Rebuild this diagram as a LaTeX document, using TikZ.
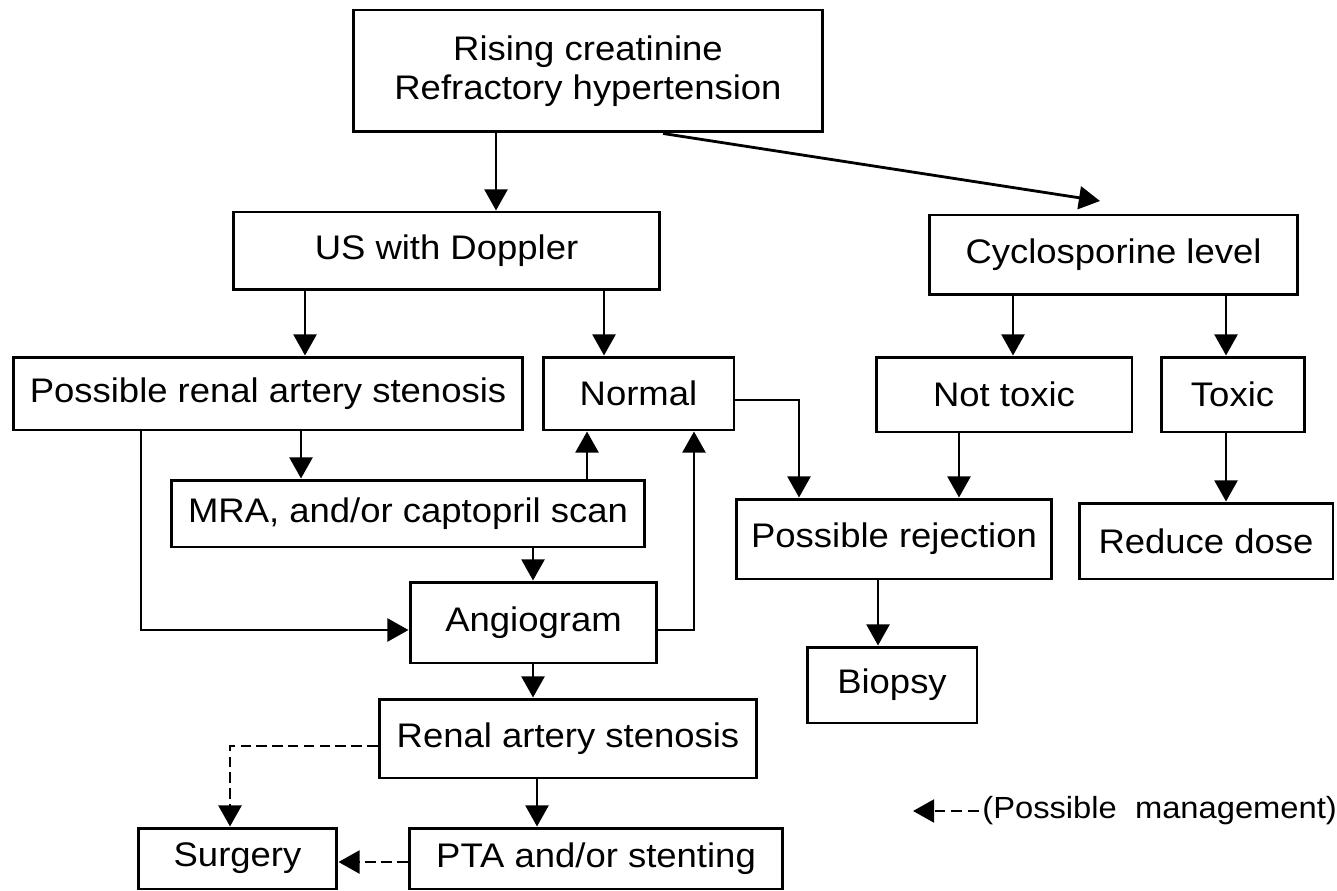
\documentclass[tikz,border=0pt]{standalone}
\usepackage{fontspec}
\setmainfont{Liberation Sans}[FakeStretch=1.07]
\usetikzlibrary{arrows.meta}
\tikzset{
  box/.style={draw, line width=1.7pt, inner sep=0pt, align=center,
    font=\fontsize{19.4pt}{22.5pt}\selectfont},
  arr/.style={line width=1.6pt, -{Triangle[length=12pt,width=13pt]}},
  darr/.style={arr, dash pattern=on 6pt off 3pt},
}
\begin{document}
\begin{tikzpicture}[x=0.02cm, y=-0.02cm]
\useasboundingbox (0,0) rectangle (1337,891);
% nodes
\node[box, minimum width=9.4cm,  minimum height=2.44cm] (top)  at (588,71)    {Rising creatinine\\Refractory hypertension};
\node[box, minimum width=8.54cm, minimum height=1.56cm] (us)   at (446.5,251) {US with Doppler};
\node[box, minimum width=7.38cm, minimum height=1.6cm]  (cyc)  at (1113.5,255){Cyclosporine level};
\node[box, minimum width=10.2cm, minimum height=1.46cm] (prs)  at (268,393.5) {Possible renal artery stenosis};
\node[box, minimum width=3.82cm, minimum height=1.46cm] (norm) at (638.5,393.5){Normal};
\node[box, minimum width=5.12cm, minimum height=1.5cm]  (ntox) at (1004,394.5){Not toxic};
\node[box, minimum width=2.86cm, minimum height=1.5cm]  (tox)  at (1232.5,394.5){Toxic};
\node[box, minimum width=9.48cm, minimum height=1.34cm] (mra)  at (408,513.5) {MRA, and/or captopril scan};
\node[box, minimum width=6.32cm, minimum height=1.6cm]  (rej)  at (894,539)   {Possible rejection};
\node[box, minimum width=5.08cm, minimum height=1.52cm] (red)  at (1206,541)  {Reduce dose};
\node[box, minimum width=4.94cm, minimum height=1.62cm] (ang)  at (533.5,622.5){Angiogram};
\node[box, minimum width=3.4cm,  minimum height=1.52cm] (bio)  at (892,685)   {Biopsy};
\node[box, minimum width=7.56cm, minimum height=1.58cm] (ras)  at (568,738.5) {Renal artery stenosis};
\node[box, minimum width=3.98cm, minimum height=1.22cm] (surg) at (237.5,858.5){Surgery};
\node[box, minimum width=7.48cm, minimum height=1.22cm] (pta)  at (596,858.5) {PTA and/or stenting};
% legend
\node[anchor=west, inner sep=0pt, font=\fontsize{17.4pt}{20pt}\selectfont] (legtext) at (982,811) {(Possible\ \ management)};
\coordinate (leghead) at (913,811);
% helper x positions
\coordinate (x141) at (141,0);
\coordinate (x230) at (230,0);
\coordinate (x301) at (301,0);
\coordinate (x305) at (305,0);
\coordinate (x496) at (496,0);
\coordinate (x533) at (533,0);
\coordinate (x537) at (537,0);
\coordinate (x587) at (587,0);
\coordinate (x604) at (604,0);
\coordinate (x663) at (663,0);
\coordinate (x694) at (694,0);
\coordinate (x799) at (799,0);
\coordinate (x878) at (878,0);
\coordinate (x959) at (959,0);
\coordinate (x1013) at (1013,0);
\coordinate (x1226) at (1226,0);
\coordinate (y630) at (0,630);
\coordinate (y400) at (0,400);
\coordinate (y746) at (0,746);
\coordinate (y862) at (0,862);
\coordinate (cycin) at (1100,201);
% connectors
\draw[arr] (top.south -| x496) -- (us.north -| x496);
\draw[arr] (top.south -| x663) -- (cycin);
\draw[arr] (us.south -| x305) -- (prs.north -| x305);
\draw[arr] (us.south -| x604) -- (norm.north -| x604);
\draw[arr] (cyc.south -| x1013) -- (ntox.north -| x1013);
\draw[arr] (cyc.south -| x1226) -- (tox.north -| x1226);
\draw[arr] (prs.south -| x301) -- (mra.north -| x301);
\draw[arr] (mra.north -| x587) -- (norm.south -| x587);
\draw[arr] (mra.south -| x533) -- (ang.north -| x533);
\draw[arr] (prs.south -| x141) |- (ang.west |- y630);
\draw[arr] (ang.east |- y630) -| (norm.south -| x694);
\draw[arr] (norm.east |- y400) -| (rej.north -| x799);
\draw[arr] (ntox.south -| x959) -- (rej.north -| x959);
\draw[arr] (tox.south -| x1226) -- (red.north -| x1226);
\draw[arr] (rej.south -| x878) -- (bio.north -| x878);
\draw[arr] (ang.south -| x533) -- (ras.north -| x533);
\draw[arr] (ras.south -| x537) -- (pta.north -| x537);
\draw[darr] (ras.west |- y746) -| (surg.north -| x230);
\draw[darr] (pta.west |- y862) -- (surg.east |- y862);
\draw[arr, dash pattern=on 6pt off 3.5pt] ([xshift=-2pt]legtext.west) -- (leghead);
\end{tikzpicture}
\end{document}
